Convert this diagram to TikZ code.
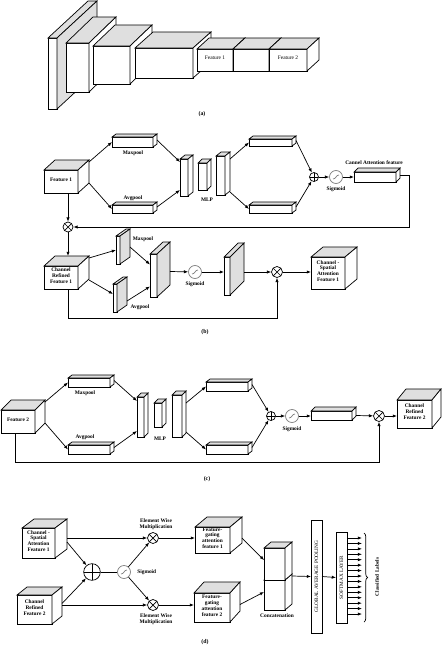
\documentclass[tikz,border=0pt]{standalone}
\usepackage{fontspec}
\setmainfont{Liberation Serif}
\usetikzlibrary{calc,fit,arrows.meta,decorations.pathreplacing}

\newcommand{\cube}[6][white]{%
  \node[front,fit={#3 #4}] (#2) {#6};
  \filldraw[fill=gray!25] (#2.north west) -- ++#5 -- ($(#2.north east)+#5$) -- (#2.north east) -- cycle;
  \filldraw[fill=#1] (#2.north east) -- ++#5 -- ($(#2.south east)+#5$) -- (#2.south east) -- cycle;
}

\begin{document}
\begin{tikzpicture}[x=0.03cm,y=-0.03cm,line width=0.6pt]
\tikzstyle{front}=[rectangle,draw,fill=white,inner sep=0,outer sep=0,align=center,font=\fontsize{4.6}{5.1}\selectfont\bfseries]
\tikzstyle{lbl}=[inner sep=0,align=center,font=\fontsize{4.6}{5.1}\selectfont\bfseries]
\tikzstyle{vlbl}=[inner sep=0,rotate=90,font=\fontsize{4.5}{5}\selectfont]
\tikzstyle{capt}=[inner sep=0,font=\fontsize{5}{6}\selectfont\bfseries]
\tikzstyle{arr}=[-{Latex[length=3.6pt,width=2.8pt]}]
\tikzstyle{oplus}=[circle,draw,fill=white,inner sep=0,path picture={\draw (path picture bounding box.north) -- (path picture bounding box.south) (path picture bounding box.west) -- (path picture bounding box.east);}]
\tikzstyle{otimes}=[circle,draw,fill=white,inner sep=0,path picture={\draw (path picture bounding box.north west) -- (path picture bounding box.south east) (path picture bounding box.south west) -- (path picture bounding box.north east);}]
\tikzstyle{sigm}=[circle,draw=gray,fill=white,inner sep=0,minimum size=0.39cm,path picture={\draw[gray] ($(path picture bounding box.center)+(-3,2)$) .. controls ($(path picture bounding box.center)+(0,2)$) and ($(path picture bounding box.center)+(0,-2)$) .. ($(path picture bounding box.center)+(3,-2)$);}]
\useasboundingbox (0,0) rectangle (442,668);

\cube[gray!25]{a1}{(48,38)}{(57,109)}{(40,-37)}{}
\cube{a2}{(66,43)}{(89,92)}{(27,-26)}{}
\cube{a3}{(93,46)}{(130,84)}{(22,-21)}{}
\cube{a4}{(135,48)}{(193,78)}{(18,-16)}{}
\cube{a5}{(197,49)}{(233,71)}{(12,-11)}{\mdseries Feature 1}
\cube{a6}{(233,49)}{(269,71)}{(12,-11)}{}
\cube{a7}{(269,49)}{(307,71)}{(12,-11)}{\mdseries Feature 2}
\node[capt] (capa) at (202,114) {(a)};

\cube{f1}{(44,170)}{(78,193)}{(11,-10)}{Feature 1}
\cube{mp1}{(112,137)}{(153,147)}{(4,-3)}{}
\cube{ap1}{(112,205)}{(153,213)}{(4,-3)}{}
\node[lbl] (mp1lbl) at (133,153) {Maxpool};
\node[lbl] (ap1lbl) at (133,198) {Avgpool};
\cube{m11}{(180,159)}{(188,196)}{(5,-4)}{}
\cube{m12}{(198,163)}{(207,190)}{(4,-4)}{}
\cube{m13}{(216,156)}{(225,195)}{(5,-4)}{}
\node[lbl] (mlp1) at (207,200) {MLP};
\cube{u1}{(249,139)}{(292,146)}{(4,-3)}{}
\cube{l1}{(249,205)}{(292,213)}{(4,-3)}{}
\node[oplus,minimum size=0.27cm] (op1) at (314,177) {};
\node[sigm] (sg1) at (336,177) {};
\node[lbl] (sg1lbl) at (336,189) {Sigmoid};
\cube{ca1}{(354,172)}{(396,182)}{(4,-4)}{}
\node[lbl] (ca1lbl) at (374,163) {Cannel Attention feature};
\node[otimes,minimum size=0.3cm] (ox1) at (68,227) {};
\draw[arr] ($(f1.north east)+(11,-8)$) -- (mp1.west);
\draw[arr] ($(f1.south east)+(11,-10)$) -- (ap1.west);
\draw[arr] ($(mp1.east)+(4,-2)$) -- ($(m11.north west)+(0,3)$);
\draw[arr] ($(ap1.east)+(4,-2)$) -- ($(m11.south west)+(0,-6)$);
\draw[arr] ($(m13.north east)+(5,3)$) -- (u1.west);
\draw[arr] ($(m13.south east)+(5,-3)$) -- (l1.west);
\draw[arr] ($(u1.east)+(4,-2)$) -- (op1);
\draw[arr] ($(l1.east)+(4,-2)$) -- (op1);
\draw[arr] (op1) -- (sg1);
\draw[arr] (sg1) -- (sg1 -| ca1.west);
\draw[arr] ($(ca1.east)+(4,-2)$) -- ++(9,0) |- (ox1);
\draw[arr] (f1.south -| ox1) -- (ox1);

\cube{crf1}{(44,266)}{(78,289)}{(11,-10)}{Channel\\Refined\\Feature 1}
\draw[arr] (ox1) -- ($(crf1.north -| ox1)+(0,-10)$);
\cube[gray!25]{mps}{(116,236)}{(120,264)}{(10,-7)}{}
\cube[gray!25]{aps}{(113,284)}{(117,312)}{(10,-7)}{}
\node[lbl] (mpslbl) at (143,239) {Maxpool};
\node[lbl] (apslbl) at (140,307) {Avgpool};
\cube[gray!25]{bs1}{(150,254)}{(157,297)}{(13,-12)}{}
\node[sigm] (sg2) at (195,272) {};
\node[lbl] (sg2lbl) at (195,284) {Sigmoid};
\cube[gray!25]{bs2}{(224,257)}{(230,295)}{(14,-14)}{}
\node[otimes,minimum size=0.33cm] (ox2) at (277,272) {};
\cube{csa1}{(311,257)}{(345,289)}{(12,-10)}{Channel -\\Spatial\\Attention\\Feature 1}
\draw[arr] ($(crf1.north east)+(11,-8)$) -- (mps.west);
\draw[arr] ($(crf1.south east)+(11,-9)$) -- ($(aps.west)+(0,-4)$);
\draw[arr] ($(mps.east)+(10,-3)$) -- ($(bs1.west)+(0,-11)$);
\draw[arr] ($(aps.east)+(10,3)$) -- ($(bs1.west)+(0,11)$);
\draw[arr] ($(bs1.east)+(13,-4)$) -- (sg2);
\draw[arr] (sg2) -- (sg2 -| bs2.west);
\draw[arr] ($(bs2.east)+(14,-4)$) -- (ox2);
\draw[arr] (ox2) -- (ox2 -| csa1.west);
\draw[arr] (crf1.south -| ox1) -- ++(0,29) -| (ox2);
\node[capt] (capb) at (205,332) {(b)};

\cube{f2}{(1,410)}{(35,433)}{(10,-10)}{Feature 2}
\cube{mp2}{(68,378)}{(110,387)}{(4,-3)}{}
\cube{ap2}{(68,445)}{(110,454)}{(4,-3)}{}
\node[lbl] (mp2lbl) at (85,393) {Maxpool};
\node[lbl] (ap2lbl) at (85,437) {Avgpool};
\cube{m21}{(137,397)}{(144,437)}{(4,-4)}{}
\cube{m22}{(154,403)}{(162,427)}{(4,-4)}{}
\cube{m23}{(172,395)}{(182,437)}{(4,-4)}{}
\node[lbl] (mlp2) at (160,439) {MLP};
\cube{u2}{(206,382)}{(248,391)}{(4,-3)}{}
\cube{l2}{(206,445)}{(248,454)}{(4,-3)}{}
\node[oplus,minimum size=0.27cm] (op2) at (271,416) {};
\node[sigm] (sg3) at (292,416) {};
\node[lbl] (sg3lbl) at (292,429) {Sigmoid};
\cube{cb2}{(311,411)}{(352,420)}{(4,-4)}{}
\node[otimes,minimum size=0.33cm] (ox3) at (379,416) {};
\cube{crf2}{(397,400)}{(432,428)}{(9,-11)}{Channel\\Refined\\Feature 2}
\draw[arr] ($(f2.north east)+(10,-8)$) -- (mp2.west);
\draw[arr] ($(f2.south east)+(10,-10)$) -- (ap2.west);
\draw[arr] ($(mp2.east)+(4,-2)$) -- ($(m21.north west)+(0,4)$);
\draw[arr] ($(ap2.east)+(4,-2)$) -- ($(m21.south west)+(0,-6)$);
\draw[arr] ($(m23.north east)+(4,8)$) -- (u2.west);
\draw[arr] ($(m23.south east)+(4,-5)$) -- (l2.west);
\draw[arr] ($(u2.east)+(4,-2)$) -- (op2);
\draw[arr] ($(l2.east)+(4,-2)$) -- (op2);
\draw[arr] (op2) -- (sg3);
\draw[arr] (sg3) -- (sg3 -| cb2.west);
\draw[arr] ($(cb2.east)+(4,0)$) -- (ox3);
\draw[arr] (ox3) -- (ox3 -| crf2.west);
\draw[arr] ($(f2.south)+(-3,0)$) -- ++(0,29) -| (ox3);
\node[capt] (capc) at (207,479) {(c)};

\cube{csa2}{(22,528)}{(55,558)}{(12,-9)}{Channel -\\Spatial\\Attention\\Feature 1}
\cube{crf3}{(17,595)}{(52,624)}{(10,-8)}{Channel\\Refined\\Feature 2}
\node[oplus,minimum size=0.5cm] (opb) at (92,572) {};
\node[sigm] (sg4) at (124,572) {};
\node[lbl,anchor=west] (sg4lbl) at (137,572) {Sigmoid};
\node[otimes,minimum size=0.33cm] (oxa) at (153,538) {};
\node[otimes,minimum size=0.33cm] (oxb) at (153,605) {};
\node[lbl] (oxalbl) at (156,524) {Element Wise\\Multiplication};
\node[lbl] (oxblbl) at (156,619) {Element Wise\\Multiplication};
\cube{fga1}{(195,527)}{(230,553)}{(12,-10)}{Feature-\\gating\\attention\\feature 1}
\cube{fga2}{(194,593)}{(230,622)}{(10,-11)}{Feature-\\gating\\attention\\feature 2}
\cube{cc2}{(264,580)}{(285,610)}{(7,-6)}{}
\cube{cc1}{(264,548)}{(285,580)}{(7,-6)}{}
\node[lbl] (cclbl) at (277,616) {Concatenation};
\node[front,fit={(311,520) (322,633)}] (gap) {};
\node[vlbl] (gaptxt) at (gap) {GLOBAL AVERAGE POOLING};
\node[front,fit={(336,532) (347,623)}] (sm) {};
\node[vlbl] (smtxt) at (sm) {SOFTMAX LAYER};
\draw[arr] ($(csa2.east)+(12,-5)$) -- (oxa);
\draw[arr] ($(csa2.east)+(12,-1)$) -- (opb);
\draw[arr] ($(crf3.east)+(10,-4.5)$) -- (oxb);
\draw[arr] ($(crf3.east)+(10,-6)$) -- (opb);
\draw (opb) -- (sg4);
\draw[arr] (sg4) -- (oxa);
\draw[arr] (sg4) -- (oxb);
\draw[arr] (oxa) -- (oxa -| fga1.west);
\draw[arr] (oxb) -- (oxb -| fga2.west);
\draw[arr] ($(fga1.east)+(12,-2)$) -- ($(cc1.west)+(0,-4)$);
\draw[arr] ($(fga2.east)+(10,-3)$) -- ($(cc2.west)+(0,-3)$);
\draw[arr] ($(cc1.south east)+(7,-4)$) -- (gap.west);
\draw[arr] (gap.east) -- (sm.west);
\foreach \i in {0,...,14}
  \draw[arr] ($(sm.north east)+(0,6+\i*5.43)$) -- ++(15,0);
\draw[decorate,decoration={brace,amplitude=3pt}] ($(sm.north east)+(17,1)$) -- ($(sm.south east)+(17,-1)$);
\node[vlbl,font=\fontsize{4.5}{5}\selectfont\bfseries] (cls) at (377,577) {Classified Labels};
\node[capt] (capd) at (205,642) {(d)};
\end{tikzpicture}
\end{document}
